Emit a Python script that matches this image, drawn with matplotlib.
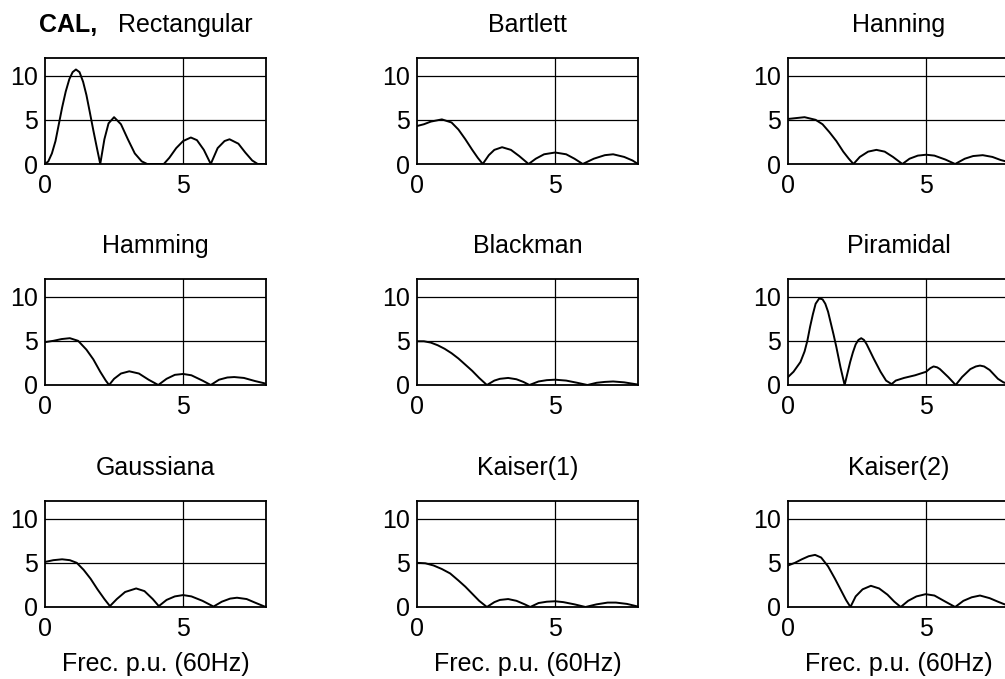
import matplotlib
matplotlib.use("Agg")
import matplotlib.pyplot as plt

plt.rcParams['font.family'] = ['Liberation Sans', 'DejaVu Sans']

# magnitude of each window's response vs frequency (p.u. of 60 Hz)
rect_x = [0, 0.12, 0.25, 0.38, 0.5, 0.62, 0.75, 0.88, 1.0, 1.12, 1.25, 1.38, 1.5, 1.62, 1.75,
          1.88, 2.0, 2.15, 2.3, 2.5, 2.75, 3.0, 3.25, 3.5, 3.7, 4.3, 4.5, 4.75, 5.0, 5.28, 5.5,
          5.75, 6.0, 6.25, 6.5, 6.68, 7.0, 7.25, 7.5, 7.7, 8.0]
rect_y = [0, 0.3, 1.2, 2.6, 4.5, 6.4, 8.2, 9.6, 10.4, 10.7, 10.4, 9.3, 7.8, 5.9, 3.8,
          1.8, 0, 2.8, 4.6, 5.3, 4.5, 2.8, 1.2, 0.3, 0, 0, 0.7, 1.8, 2.6, 3.0, 2.7,
          1.6, 0, 1.8, 2.6, 2.8, 2.3, 1.3, 0.4, 0, 0]

bart_x = [0, 0.25, 0.5, 0.9, 1.25, 1.5, 1.75, 2.0, 2.2, 2.38, 2.6, 2.8, 3.08, 3.4, 3.7, 4.04,
          4.3, 4.6, 5.0, 5.4, 5.7, 6.0, 6.4, 6.8, 7.1, 7.5, 7.8, 8.0]
bart_y = [4.3, 4.5, 4.8, 5.05, 4.7, 3.9, 2.8, 1.6, 0.7, 0, 1.0, 1.6, 1.9, 1.6, 0.9, 0,
          0.6, 1.1, 1.3, 1.1, 0.6, 0, 0.6, 1.0, 1.1, 0.8, 0.4, 0]

hann_x = [0, 0.3, 0.6, 1.0, 1.25, 1.5, 1.75, 2.0, 2.2, 2.37, 2.6, 2.9, 3.2, 3.5, 3.8, 4.14,
          4.4, 4.7, 5.0, 5.3, 5.7, 6.05, 6.4, 6.7, 7.05, 7.4, 7.7, 8.0]
hann_y = [5.1, 5.2, 5.3, 5.0, 4.5, 3.6, 2.6, 1.4, 0.6, 0, 0.8, 1.4, 1.6, 1.4, 0.8, 0,
          0.6, 0.95, 1.05, 0.95, 0.5, 0, 0.6, 0.9, 1.0, 0.8, 0.45, 0.2]

hamm_x = [0, 0.3, 0.6, 0.9, 1.2, 1.5, 1.75, 2.0, 2.2, 2.32, 2.5, 2.75, 3.05, 3.4, 3.75, 4.1,
          4.4, 4.7, 5.0, 5.3, 5.7, 6.0, 6.3, 6.6, 6.85, 7.2, 7.6, 8.0]
hamm_y = [4.85, 5.0, 5.2, 5.3, 5.0, 4.0, 2.9, 1.5, 0.5, 0, 0.7, 1.3, 1.55, 1.3, 0.6, 0,
          0.7, 1.15, 1.25, 1.1, 0.5, 0, 0.6, 0.85, 0.9, 0.8, 0.45, 0.15]

black_x = [0, 0.25, 0.5, 0.75, 1.0, 1.25, 1.5, 1.75, 2.0, 2.25, 2.53, 2.8, 3.0, 3.3, 3.6, 3.85,
           4.07, 4.4, 4.7, 5.0, 5.4, 5.8, 6.17, 6.5, 6.8, 7.1, 7.5, 7.8, 8.0]
black_y = [4.95, 4.95, 4.8, 4.5, 4.1, 3.6, 3.0, 2.3, 1.6, 0.8, 0, 0.5, 0.7, 0.8, 0.65, 0.35,
           0, 0.4, 0.55, 0.6, 0.5, 0.25, 0, 0.25, 0.35, 0.4, 0.3, 0.15, 0.05]

pira_x = [0, 0.2, 0.45, 0.6, 0.7, 0.8, 0.9, 1.0, 1.13, 1.25, 1.35, 1.45, 1.55, 1.65, 1.75, 1.9,
          2.05, 2.15, 2.25, 2.35, 2.45, 2.55, 2.65, 2.75, 2.85, 3.1, 3.35, 3.55, 3.75, 3.9, 4.2,
          4.6, 5.0, 5.15, 5.27, 5.4, 5.5, 5.8, 6.07, 6.3, 6.6, 6.8, 6.95, 7.1, 7.3, 7.6, 7.8, 8.0]
pira_y = [0.9, 1.5, 2.6, 3.8, 5.0, 6.6, 8.0, 9.2, 9.8, 9.7, 9.2, 8.3, 7.0, 5.7, 4.3, 2.0,
          0, 1.3, 2.6, 3.7, 4.6, 5.1, 5.3, 5.1, 4.6, 3.0, 1.5, 0.5, 0.1, 0.5, 0.8,
          1.1, 1.5, 1.9, 2.1, 2.0, 1.8, 0.9, 0, 0.9, 1.8, 2.1, 2.2, 2.1, 1.7, 0.7, 0.3, 0.1]

gaus_x = [0, 0.3, 0.62, 0.9, 1.15, 1.4, 1.65, 1.9, 2.15, 2.35, 2.6, 2.9, 3.3, 3.6, 3.9, 4.12,
          4.4, 4.7, 5.0, 5.3, 5.7, 6.1, 6.4, 6.7, 6.95, 7.3, 7.6, 7.95, 8.0]
gaus_y = [5.1, 5.3, 5.4, 5.3, 5.0, 4.2, 3.2, 2.0, 0.9, 0.1, 0.9, 1.7, 2.1, 1.8, 0.9, 0.1,
          0.8, 1.2, 1.35, 1.2, 0.7, 0.05, 0.6, 0.95, 1.05, 0.9, 0.5, 0.05, 0.05]

kai1_x = [0, 0.3, 0.6, 0.9, 1.2, 1.5, 1.75, 2.0, 2.25, 2.53, 2.8, 3.0, 3.3, 3.6, 3.9, 4.1,
          4.4, 4.7, 5.0, 5.3, 5.7, 6.1, 6.5, 6.9, 7.2, 7.6, 8.0]
kai1_y = [5.0, 4.95, 4.7, 4.3, 3.8, 3.0, 2.3, 1.5, 0.7, 0, 0.55, 0.8, 0.9, 0.7, 0.3, 0,
          0.45, 0.6, 0.65, 0.55, 0.3, 0, 0.3, 0.5, 0.5, 0.35, 0.05]

kai2_x = [0, 0.25, 0.5, 0.75, 0.98, 1.2, 1.45, 1.7, 1.95, 2.1, 2.26, 2.45, 2.7, 3.0, 3.3, 3.6,
          3.85, 4.08, 4.35, 4.65, 4.98, 5.3, 5.7, 6.05, 6.35, 6.65, 6.95, 7.3, 7.6, 7.8, 8.0]
kai2_y = [4.7, 5.0, 5.4, 5.75, 5.9, 5.6, 4.6, 3.2, 1.7, 0.8, 0, 1.2, 2.0, 2.4, 2.1, 1.4,
          0.6, 0, 0.7, 1.2, 1.45, 1.3, 0.6, 0, 0.7, 1.1, 1.3, 1.0, 0.6, 0.35, 0.15]

titles = ["Rectangular", "Bartlett", "Hanning",
          "Hamming", "Blackman", "Piramidal",
          "Gaussiana", "Kaiser(1)", "Kaiser(2)"]
curves = [(rect_x, rect_y), (bart_x, bart_y), (hann_x, hann_y),
          (hamm_x, hamm_y), (black_x, black_y), (pira_x, pira_y),
          (gaus_x, gaus_y), (kai1_x, kai1_y), (kai2_x, kai2_y)]

W, H = 1005, 679
fig = plt.figure(figsize=(W / 100, H / 100), dpi=100)

col_left = [45, 417, 788]
row_top = [58, 279, 501]
ax_w, ax_h = 221, 106
fs = 18

for i, (title, (x, y)) in enumerate(zip(titles, curves)):
    r, c = divmod(i, 3)
    left = col_left[c] / W
    bottom = 1 - (row_top[r] + ax_h) / H
    ax = fig.add_axes([left, bottom, ax_w / W, ax_h / H])
    ax.plot(x, y, color='black', lw=1.4)
    for yy in (5, 10):
        ax.axhline(yy, color='black', lw=0.9)
    ax.axvline(5, color='black', lw=0.9)
    ax.set_xlim(0, 8)
    ax.set_ylim(0, 12)
    ax.set_xticks([0, 5])
    ax.set_yticks([0, 5, 10])
    ax.tick_params(length=0, labelsize=fs, pad=5)
    ax.tick_params(axis='x', pad=7)
    for s in ax.spines.values():
        s.set_linewidth(1.3)

    title_y = 1 + 26 / ax_h
    if i == 0:
        ax.text(-6 / ax_w, title_y, "CAL,", transform=ax.transAxes, fontsize=fs,
                fontweight='bold', ha='left', va='baseline')
        ax.text(73 / ax_w, title_y, title, transform=ax.transAxes, fontsize=fs,
                ha='left', va='baseline')
    else:
        ax.text(0.5, title_y, title, transform=ax.transAxes, fontsize=fs,
                ha='center', va='baseline')
    if r == 2:
        ax.set_xlabel("Frec. p.u. (60Hz)", fontsize=fs, labelpad=8)

fig.savefig("out.png", dpi=100)
